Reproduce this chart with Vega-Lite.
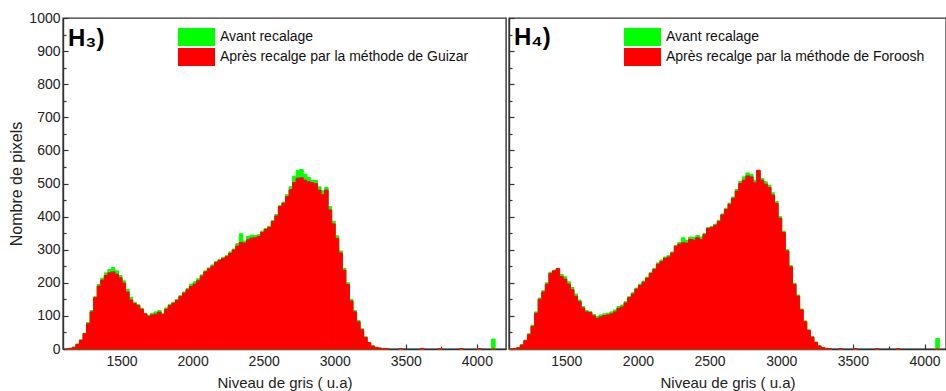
{
  "$schema": "https://vega.github.io/schema/vega-lite/v6.json",
  "padding": {"left": 8, "top": 10, "right": 0, "bottom": 0},
  "background": "white",
  "config": {
    "font": "Liberation Sans",
    "view": {"stroke": "#333333", "strokeWidth": 1.4},
    "concat": {"spacing": 0},
    "axis": {
      "labelFont": "Liberation Sans", "titleFont": "Liberation Sans",
      "labelFontSize": 14, "titleFontSize": 15, "titleFontWeight": "normal",
      "labelColor": "#222222", "titleColor": "#222222",
      "grid": false, "domainColor": "#333333", "domainWidth": 1.4,
      "tickColor": "#333333", "tickWidth": 1.2, "zindex": 1
    },
    "legend": {
      "orient": "none", "legendX": 115, "legendY": 10, "title": null,
      "symbolType": "M-2.06,-1H2.06V1H-2.06Z", "symbolSize": 324, "symbolOffset": 9.5,
      "symbolStrokeWidth": 0, "symbolOpacity": 1,
      "labelFont": "Liberation Sans", "labelFontSize": 14, "labelColor": "#111111",
      "labelOffset": 14.5, "labelLimit": 500, "rowPadding": 2, "padding": 0
    }
  },
  "resolve": {"scale": {"color": "independent", "x": "independent"}},
  "datasets": {
    "h3": [
      {"g":1100,"a":0,"b":0},{"g":1125,"a":2,"b":2},{"g":1150,"a":6,"b":5},{"g":1175,"a":15,"b":14},
      {"g":1200,"a":28,"b":26},{"g":1225,"a":48,"b":46},{"g":1250,"a":80,"b":76},{"g":1275,"a":116,"b":112},
      {"g":1300,"a":158,"b":155},{"g":1325,"a":195,"b":190},{"g":1350,"a":214,"b":208},{"g":1375,"a":230,"b":222},
      {"g":1400,"a":240,"b":230},{"g":1425,"a":246,"b":233},{"g":1450,"a":236,"b":226},{"g":1475,"a":222,"b":215},
      {"g":1500,"a":206,"b":199},{"g":1525,"a":180,"b":172},{"g":1550,"a":156,"b":148},{"g":1575,"a":141,"b":137},
      {"g":1600,"a":134,"b":131},{"g":1625,"a":123,"b":120},{"g":1650,"a":108,"b":106},{"g":1675,"a":102,"b":99},
      {"g":1700,"a":108,"b":103},{"g":1725,"a":112,"b":105},{"g":1750,"a":116,"b":111},{"g":1775,"a":107,"b":104},
      {"g":1800,"a":124,"b":120},{"g":1825,"a":135,"b":131},{"g":1850,"a":141,"b":138},{"g":1875,"a":150,"b":147},
      {"g":1900,"a":161,"b":158},{"g":1925,"a":172,"b":169},{"g":1950,"a":183,"b":179},{"g":1975,"a":196,"b":189},
      {"g":2000,"a":203,"b":196},{"g":2025,"a":212,"b":206},{"g":2050,"a":224,"b":220},{"g":2075,"a":236,"b":233},
      {"g":2100,"a":245,"b":242},{"g":2125,"a":254,"b":250},{"g":2150,"a":264,"b":261},{"g":2175,"a":270,"b":268},
      {"g":2200,"a":276,"b":273},{"g":2225,"a":282,"b":279},{"g":2250,"a":293,"b":289},{"g":2275,"a":302,"b":299},
      {"g":2300,"a":318,"b":311},{"g":2325,"a":348,"b":322},{"g":2350,"a":326,"b":320},{"g":2375,"a":340,"b":330},
      {"g":2400,"a":344,"b":335},{"g":2425,"a":343,"b":336},{"g":2450,"a":345,"b":340},{"g":2475,"a":356,"b":352},
      {"g":2500,"a":364,"b":361},{"g":2525,"a":371,"b":367},{"g":2550,"a":388,"b":385},{"g":2575,"a":406,"b":402},
      {"g":2600,"a":433,"b":430},{"g":2625,"a":444,"b":440},{"g":2650,"a":466,"b":460},{"g":2675,"a":490,"b":481},
      {"g":2700,"a":522,"b":503},{"g":2725,"a":540,"b":516},{"g":2750,"a":542,"b":517},{"g":2775,"a":528,"b":510},
      {"g":2800,"a":518,"b":505},{"g":2825,"a":510,"b":502},{"g":2850,"a":509,"b":500},{"g":2875,"a":490,"b":480},
      {"g":2900,"a":478,"b":466},{"g":2925,"a":488,"b":480},{"g":2950,"a":430,"b":420},{"g":2975,"a":386,"b":378},
      {"g":3000,"a":342,"b":334},{"g":3025,"a":296,"b":290},{"g":3050,"a":244,"b":238},{"g":3075,"a":200,"b":195},
      {"g":3100,"a":150,"b":145},{"g":3125,"a":116,"b":112},{"g":3150,"a":86,"b":82},{"g":3175,"a":61,"b":58},
      {"g":3200,"a":37,"b":35},{"g":3225,"a":20,"b":19},{"g":3250,"a":10,"b":9},{"g":3275,"a":5,"b":5},
      {"g":3300,"a":3,"b":3},{"g":3325,"a":1,"b":1},{"g":3350,"a":1,"b":1},{"g":3450,"a":0,"b":1},
      {"g":3600,"a":1,"b":2},{"g":3725,"a":1,"b":1},{"g":3875,"a":0,"b":1},{"g":4000,"a":1,"b":1},
      {"g":4100,"a":30,"b":0}
    ],
    "h4": [
      {"g":1100,"a":0,"b":0},{"g":1125,"a":1,"b":1},{"g":1150,"a":4,"b":4},{"g":1175,"a":13,"b":12},
      {"g":1200,"a":27,"b":25},{"g":1225,"a":46,"b":43},{"g":1250,"a":72,"b":68},{"g":1275,"a":112,"b":108},
      {"g":1300,"a":154,"b":150},{"g":1325,"a":176,"b":172},{"g":1350,"a":200,"b":196},{"g":1375,"a":232,"b":228},
      {"g":1400,"a":238,"b":236},{"g":1425,"a":240,"b":243},{"g":1450,"a":225,"b":219},{"g":1475,"a":218,"b":211},
      {"g":1500,"a":203,"b":196},{"g":1525,"a":186,"b":179},{"g":1550,"a":166,"b":159},{"g":1575,"a":148,"b":143},
      {"g":1600,"a":128,"b":124},{"g":1625,"a":116,"b":112},{"g":1650,"a":113,"b":110},{"g":1675,"a":104,"b":100},
      {"g":1700,"a":98,"b":92},{"g":1725,"a":103,"b":97},{"g":1750,"a":106,"b":101},{"g":1775,"a":108,"b":103},
      {"g":1800,"a":112,"b":106},{"g":1825,"a":118,"b":112},{"g":1850,"a":128,"b":123},{"g":1875,"a":133,"b":127},
      {"g":1900,"a":143,"b":139},{"g":1925,"a":158,"b":155},{"g":1950,"a":170,"b":166},{"g":1975,"a":184,"b":181},
      {"g":2000,"a":196,"b":192},{"g":2025,"a":205,"b":202},{"g":2050,"a":217,"b":214},{"g":2075,"a":231,"b":228},
      {"g":2100,"a":244,"b":240},{"g":2125,"a":260,"b":256},{"g":2150,"a":269,"b":264},{"g":2175,"a":278,"b":274},
      {"g":2200,"a":282,"b":278},{"g":2225,"a":293,"b":290},{"g":2250,"a":313,"b":310},{"g":2275,"a":322,"b":317},
      {"g":2300,"a":336,"b":321},{"g":2325,"a":328,"b":320},{"g":2350,"a":338,"b":331},{"g":2375,"a":337,"b":329},
      {"g":2400,"a":343,"b":336},{"g":2425,"a":338,"b":330},{"g":2450,"a":349,"b":345},{"g":2475,"a":367,"b":364},
      {"g":2500,"a":370,"b":367},{"g":2525,"a":377,"b":374},{"g":2550,"a":389,"b":385},{"g":2575,"a":408,"b":405},
      {"g":2600,"a":425,"b":421},{"g":2625,"a":441,"b":437},{"g":2650,"a":459,"b":455},{"g":2675,"a":482,"b":477},
      {"g":2700,"a":506,"b":500},{"g":2725,"a":520,"b":510},{"g":2750,"a":532,"b":523},{"g":2775,"a":528,"b":520},
      {"g":2800,"a":510,"b":502},{"g":2825,"a":538,"b":540},{"g":2850,"a":515,"b":510},{"g":2875,"a":505,"b":498},
      {"g":2900,"a":495,"b":488},{"g":2925,"a":472,"b":465},{"g":2950,"a":446,"b":440},{"g":2975,"a":400,"b":395},
      {"g":3000,"a":356,"b":352},{"g":3025,"a":300,"b":296},{"g":3050,"a":252,"b":248},{"g":3075,"a":199,"b":195},
      {"g":3100,"a":163,"b":160},{"g":3125,"a":121,"b":118},{"g":3150,"a":85,"b":82},{"g":3175,"a":58,"b":56},
      {"g":3200,"a":37,"b":36},{"g":3225,"a":21,"b":20},{"g":3250,"a":10,"b":9},{"g":3275,"a":4,"b":4},
      {"g":3300,"a":2,"b":2},{"g":3325,"a":1,"b":1},{"g":3400,"a":1,"b":1},{"g":3500,"a":0,"b":1},
      {"g":3650,"a":1,"b":1},{"g":3800,"a":1,"b":1},{"g":4075,"a":32,"b":0}
    ]
  },
  "hconcat": [
    {
      "width": 443, "height": 331,
      "data": {"name": "h3"},
      "title": {"text": "H₃)", "anchor": "start", "frame": "group", "fontSize": 24, "fontWeight": "bold", "font": "Liberation Sans", "color": "#000000", "baseline": "top", "offset": -5, "dx": 5, "dy": 35},
      "layer": [
        {
          "mark": {"type": "bar", "binSpacing": 0, "stroke": "#00ff00", "strokeWidth": 1},
          "encoding": {
            "x": {"field": "g", "type": "quantitative", "bin": {"binned": true, "step": 25},
              "scale": {"domain": [1088, 4205], "nice": false, "zero": false},
              "axis": {"title": "Niveau de gris ( u.a)", "values": [1250,1500,1750,2000,2250,2500,2750,3000,3250,3500,3750,4000],
                "labelExpr": "datum.value % 500 === 0 ? datum.label : ''",
                "tickSize": {"condition": {"test": "datum.value % 500 === 0", "value": -5}, "value": -3},
                "labelPadding": 10, "titlePadding": 5, "labelOverlap": false, "format": "d"}},
            "y": {"field": "a", "type": "quantitative",
              "scale": {"domain": [0, 1000], "nice": false},
              "axis": {"title": "Nombre de pixels", "titleFontSize": 16, "values": [0,50,100,150,200,250,300,350,400,450,500,550,600,650,700,750,800,850,900,950,1000],
                "labelExpr": "datum.value % 100 === 0 ? datum.label : ''",
                "tickSize": {"condition": {"test": "datum.value % 100 === 0", "value": -5}, "value": -3},
                "labelPadding": 8, "titlePadding": 4, "labelOverlap": false, "format": "d"}},
            "color": {"datum": "Avant recalage", "type": "nominal",
              "scale": {"domain": ["Avant recalage", "Après recalge par la méthode de Guizar"], "range": ["#00ff00", "#ff0000"]}}
          }
        },
        {
          "mark": {"type": "bar", "binSpacing": 0, "stroke": "#ff0000", "strokeWidth": 1},
          "encoding": {
            "x": {"field": "g", "type": "quantitative", "bin": {"binned": true, "step": 25},
              "axis": {"title": "Niveau de gris ( u.a)", "values": [1250,1500,1750,2000,2250,2500,2750,3000,3250,3500,3750,4000],
                "labelExpr": "datum.value % 500 === 0 ? datum.label : ''",
                "tickSize": {"condition": {"test": "datum.value % 500 === 0", "value": -5}, "value": -3},
                "labelPadding": 10, "titlePadding": 5, "labelOverlap": false, "format": "d"}},
            "y": {"field": "b", "type": "quantitative",
              "axis": {"title": "Nombre de pixels", "titleFontSize": 16, "values": [0,50,100,150,200,250,300,350,400,450,500,550,600,650,700,750,800,850,900,950,1000],
                "labelExpr": "datum.value % 100 === 0 ? datum.label : ''",
                "tickSize": {"condition": {"test": "datum.value % 100 === 0", "value": -5}, "value": -3},
                "labelPadding": 8, "titlePadding": 4, "labelOverlap": false, "format": "d"}},
            "color": {"datum": "Après recalge par la méthode de Guizar", "type": "nominal"}
          }
        }
      ]
    },
    {
      "width": 437, "height": 331,
      "data": {"name": "h4"},
      "title": {"text": "H₄)", "anchor": "start", "frame": "group", "fontSize": 24, "fontWeight": "bold", "font": "Liberation Sans", "color": "#000000", "baseline": "top", "offset": -5, "dx": 5, "dy": 28},
      "layer": [
        {
          "mark": {"type": "bar", "binSpacing": 0, "stroke": "#00ff00", "strokeWidth": 1},
          "encoding": {
            "x": {"field": "g", "type": "quantitative", "bin": {"binned": true, "step": 25},
              "scale": {"domain": [1100, 4150], "nice": false, "zero": false},
              "axis": {"title": "Niveau de gris ( u.a)", "values": [1250,1500,1750,2000,2250,2500,2750,3000,3250,3500,3750,4000],
                "labelExpr": "datum.value % 500 === 0 ? datum.label : ''",
                "tickSize": {"condition": {"test": "datum.value % 500 === 0", "value": -5}, "value": -3},
                "labelPadding": 10, "titlePadding": 5, "labelOverlap": false, "format": "d"}},
            "y": {"field": "a", "type": "quantitative",
              "scale": {"domain": [0, 1000], "nice": false},
              "axis": {"title": null, "labels": false, "values": [0,50,100,150,200,250,300,350,400,450,500,550,600,650,700,750,800,850,900,950,1000],
                "tickSize": {"condition": {"test": "datum.value % 100 === 0", "value": -5}, "value": -3}}},
            "color": {"datum": "Avant recalage", "type": "nominal",
              "scale": {"domain": ["Avant recalage", "Après recalge par la méthode de Foroosh"], "range": ["#00ff00", "#ff0000"]}}
          }
        },
        {
          "mark": {"type": "bar", "binSpacing": 0, "stroke": "#ff0000", "strokeWidth": 1},
          "encoding": {
            "x": {"field": "g", "type": "quantitative", "bin": {"binned": true, "step": 25},
              "axis": {"title": "Niveau de gris ( u.a)", "values": [1250,1500,1750,2000,2250,2500,2750,3000,3250,3500,3750,4000],
                "labelExpr": "datum.value % 500 === 0 ? datum.label : ''",
                "tickSize": {"condition": {"test": "datum.value % 500 === 0", "value": -5}, "value": -3},
                "labelPadding": 10, "titlePadding": 5, "labelOverlap": false, "format": "d"}},
            "y": {"field": "b", "type": "quantitative",
              "axis": {"title": null, "labels": false, "values": [0,50,100,150,200,250,300,350,400,450,500,550,600,650,700,750,800,850,900,950,1000],
                "tickSize": {"condition": {"test": "datum.value % 100 === 0", "value": -5}, "value": -3}}},
            "color": {"datum": "Après recalge par la méthode de Foroosh", "type": "nominal"}
          }
        }
      ]
    }
  ]
}
